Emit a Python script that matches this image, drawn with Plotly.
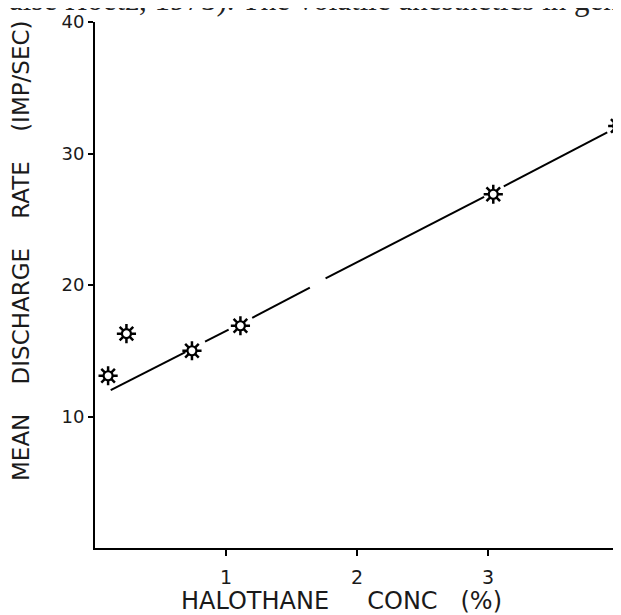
import plotly.graph_objects as go

# Data points
conc = [0.10, 0.24, 0.74, 1.11, 3.04, 3.99]
rate = [13.1, 16.3, 15.0, 16.9, 26.9, 32.1]

# Fitted regression line, drawn in segments (gaps around the markers)
fit_x = [0.12, 0.69, None, 0.84, 1.02, None, 1.20, 1.64, None, 1.76, 2.97, None, 3.12, 3.91]
fit_y = [12.0, 14.9, None, 15.7, 16.6, None, 17.5, 19.8, None, 20.5, 26.7, None, 27.5, 31.6]

x_ticks = [1, 2, 3, 4]
y_ticks = [10, 20, 30, 40]

fig = go.Figure()

fig.add_trace(go.Scatter(
    x=fit_x, y=fit_y, mode="lines",
    line=dict(color="black", width=2), connectgaps=False,
    hoverinfo="skip", showlegend=False, cliponaxis=False,
))
fig.add_trace(go.Scatter(
    x=conc, y=rate, mode="markers",
    marker=dict(symbol="asterisk-open", size=16, color="black",
                line=dict(color="black", width=2.5)),
    showlegend=False, cliponaxis=False,
))
fig.add_trace(go.Scatter(
    x=conc, y=rate, mode="markers",
    marker=dict(symbol="circle", size=9, color="white", line=dict(color="black", width=2.2)),
    showlegend=False, cliponaxis=False,
))

tick_font = dict(family="DejaVu Sans", size=19, color="#1a1a1a")

# The page body adds an 8 px offset, so the figure is 8 px smaller than the window
fig.update_layout(
    width=613, height=607,
    margin=dict(l=87, r=0, t=14, b=67, autoexpand=False),
    paper_bgcolor="white", plot_bgcolor="white",
    xaxis=dict(
        range=[0, 4.015], tickvals=x_ticks, ticktext=[str(v) for v in x_ticks],
        showgrid=False, zeroline=False, showline=True, linecolor="black", linewidth=2,
        ticks="outside", ticklen=6, tickwidth=2, tickcolor="black",
        tickfont=tick_font, automargin=False, ticklabeloverflow="allow",
        ticklabelstandoff=5,
    ),
    yaxis=dict(
        range=[0, 40], tickvals=y_ticks, ticktext=[str(v) for v in y_ticks],
        showgrid=False, zeroline=False, showline=True, linecolor="black", linewidth=2,
        ticks="outside", ticklen=5, tickwidth=2, tickcolor="black",
        tickfont=dict(family="DejaVu Sans", size=18, color="#1a1a1a"),
        automargin=False,
    ),
    annotations=[
        dict(
            text="alse Hoetz, 1973). The volatile anesthetics in gen",
            xref="paper", yref="paper", x=-88/526, y=1, xanchor="left", yanchor="bottom",
            yshift=3, showarrow=False,
            font=dict(family="Liberation Serif", size=31, color="#222"),
        ),
        dict(
            text="HALOTHANE&nbsp;&nbsp;&nbsp;&nbsp;&nbsp;CONC&nbsp;&nbsp;&nbsp;(%)",
            xref="paper", yref="paper", x=(341 - 95) / 526, y=(548 - 601) / 526,
            xanchor="center", yanchor="middle", showarrow=False,
            font=dict(family="DejaVu Sans", size=24, color="#1a1a1a"),
        ),
        dict(
            text="MEAN&nbsp;&nbsp;&nbsp;&nbsp;DISCHARGE&nbsp;&nbsp;&nbsp;&nbsp;RATE&nbsp;&nbsp;&nbsp;&nbsp;(IMP/SEC)",
            xref="paper", yref="paper", x=(21 - 95) / 526, y=(548 - 251) / 526,
            xanchor="center", yanchor="middle", textangle=-90, showarrow=False,
            font=dict(family="DejaVu Sans", size=23, color="#1a1a1a"),
        ),
    ],
)

fig.write_html("out.html")
